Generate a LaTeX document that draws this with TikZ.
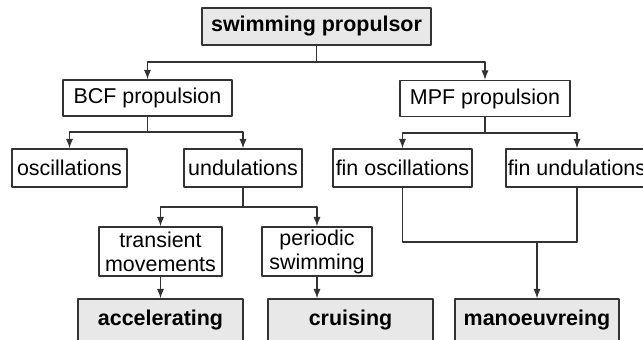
\documentclass[tikz,border=0pt]{standalone}
\usepackage{fontspec}
\setmainfont{Liberation Sans}
\usetikzlibrary{arrows.meta}
\tikzset{
  box/.style={draw=black!80,line width=1.1pt,inner sep=0pt,align=center,
    font=\fontsize{18.3}{20.5}\selectfont,minimum height={#1*0.03cm}},
  box/.default=37,
  goal/.style={box=43,fill=black!9,font=\fontsize{18.3}{20.5}\selectfont\bfseries},
  wd/.style={minimum width={#1*0.03cm}},
  arr/.style={-{Latex[length=8pt,width=6pt]}}
}
\begin{document}
\begin{tikzpicture}[x=0.03cm,y=-0.03cm,line join=round,draw=black!80,line width=1pt]
\useasboundingbox (0,0) rectangle (643,340);
\clip (0,0) rectangle (643,340);
% levels
\node[box,wd=229,fill=black!9,font=\fontsize{18.3}{20.5}\selectfont\bfseries] (prop) at (316.5,26.5) {swimming propulsor};
\node[box=36,wd=169] (bcf) at (147.5,98) {BCF propulsion};
\node[box=36,wd=170] (mpf) at (485,98.5) {MPF propulsion};
\node[box=38,wd=115] (osc) at (69.5,168) {oscillations};
\node[box=38,wd=118] (und) at (243,168) {undulations};
\node[box=38,wd=139] (fosc) at (402.5,168) {fin oscillations};
\node[box=38,wd=142] (fund) at (577,168) {fin undulations};
\node[box=49,wd=123] (trans) at (160.5,251.5) {transient\\movements};
\node[box=49,wd=110] (per) at (317,251.5) {periodic\\swimming};
\node[goal,wd=165] (acc) at (160.5,320.5) {accelerating};
\node[goal,wd=165] (cru) at (350.5,320.5) {cruising};
\node[goal,wd=164] (man) at (537,320.5) {manoeuvreing};
% junctions
\coordinate (j1) at (316.5,62);
\coordinate (j2) at (147.5,132);
\coordinate (j3) at (485,133);
\coordinate (j4) at (243,207);
\coordinate (j5) at (537,242);
\draw (prop) -- (j1);
\draw[arr] (j1) -| (bcf.north);
\draw[arr] (j1) -| (mpf.north);
\draw (bcf) -- (j2);
\draw[arr] (j2) -| (osc.north);
\draw[arr] (j2) -| (und.north);
\draw (mpf) -- (j3);
\draw[arr] (j3) -| (fosc.north);
\draw[arr] (j3) -| (fund.north);
\draw (und) -- (j4);
\draw[arr] (j4) -| (trans.north);
\draw[arr] (j4) -| (per.north);
\draw[arr] (trans) -- (acc);
\draw[arr] (per.south) -- (per.south |- cru.north);
\draw (fosc.south) |- (j5) -| (fund.south);
\draw[arr] (j5) -- (man.north);
\end{tikzpicture}
\end{document}
